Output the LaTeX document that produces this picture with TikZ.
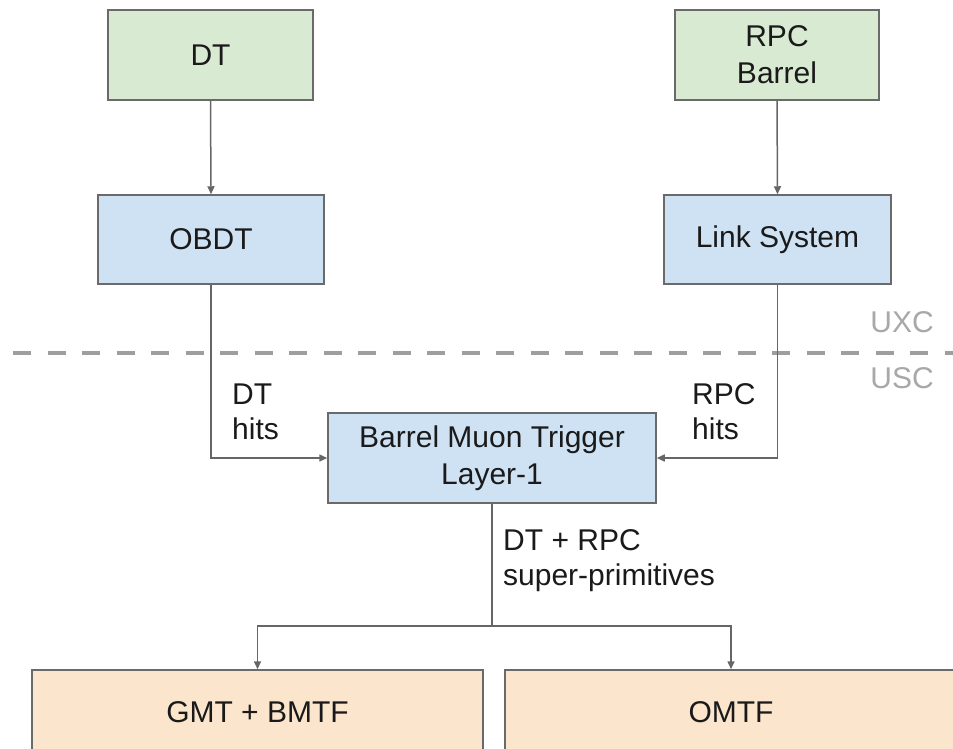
\documentclass[tikz,border=0pt]{standalone}
\usepackage{fontspec}
\setmainfont{Liberation Sans}
\usetikzlibrary{arrows.meta}
\definecolor{boxgreen}{HTML}{D9EAD3}
\definecolor{boxblue}{HTML}{CFE2F3}
\definecolor{boxorange}{HTML}{FCE5CD}
\definecolor{edgegray}{HTML}{6A6A6A}
\definecolor{linegray}{HTML}{666666}
\definecolor{dashgray}{HTML}{9E9E9E}
\definecolor{zonegray}{HTML}{A8A8A8}
\definecolor{txt}{HTML}{1A1A1A}
\begin{document}
\begin{tikzpicture}[x=1pt,y=-1pt,
  box/.style={draw=edgegray, line width=1.5pt, text=txt,
    font=\fontsize{30}{37}\selectfont, align=center, inner sep=0pt},
  conn/.style={draw=linegray, line width=1.5pt},
  arr/.style={conn, -{Triangle[length=8pt,width=7pt]}},
  lbl/.style={text=txt, font=\fontsize{30}{35}\selectfont, align=left,
    inner sep=0pt, anchor=north west},
  zone/.style={text=zonegray, font=\fontsize{30}{35}\selectfont, inner sep=0pt}]
\path[use as bounding box, clip] (0,0) rectangle (953,748);
\fill[white] (0,0) rectangle (953,748);

% boxes
\node[box, fill=boxgreen, minimum width=205pt, minimum height=90pt] (dt) at (210.5,55) {DT};
\node[box, fill=boxblue, minimum width=226pt, minimum height=89pt] (obdt) at (211,239.5) {OBDT};
\node[box, fill=boxgreen, minimum width=204pt, minimum height=90pt] (rpc) at (777,55) {RPC\\Barrel};
\node[box, fill=boxblue, minimum width=227pt, minimum height=89pt] (link) at (777.5,239.5) {Link System};
\node[box, fill=boxblue, minimum width=328pt, minimum height=90pt] (bmt) at (492,458) {Barrel Muon Trigger\\Layer-1};
\node[box, fill=boxorange, minimum width=451pt, minimum height=84pt] (gmt) at (257.5,712) {GMT + BMTF};
\node[box, fill=boxorange, minimum width=452pt, minimum height=84pt] (omtf) at (731,712) {OMTF};

% dashed boundary
\coordinate (dashA) at (13,353);
\coordinate (dashB) at (970,353);
\draw[dashgray, line width=4pt, dash pattern=on 18pt off 16.5pt] (dashA) -- (dashB);
\node[zone] (uxc) at (902,322) {UXC};
\node[zone] (usc) at (902,378) {USC};

% connectors
\draw[arr] (dt.south) -- (obdt.north);
\draw[arr] (rpc.south) -- (link.north);
\draw[arr] (obdt.south) |- (bmt.west);
\draw[arr] (link.south) |- (bmt.east);
\coordinate (split) at (492,626);
\draw[conn] (bmt.south) -- (split);
\draw[arr] (split) -| (gmt.north);
\draw[arr] (split) -| (omtf.north);

% labels
\node[lbl] (dthits) at (232,384) {DT\\hits};
\node[lbl] (rpchits) at (692,383) {RPC\\hits};
\node[lbl] (sp) at (503,529.5) {DT + RPC\\super-primitives};
\end{tikzpicture}
\end{document}
